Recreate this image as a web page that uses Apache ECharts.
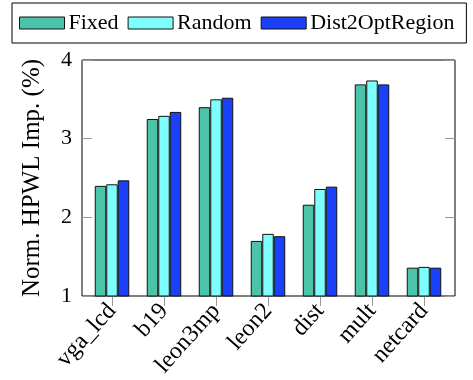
<!DOCTYPE html>
<html>
<head>
<meta charset="utf-8">
<script src="https://cdn.jsdelivr.net/npm/echarts@6/dist/echarts.min.js"></script>
<style>
html,body{margin:0;padding:0;background:#fff;}
#chart{width:473px;height:380px;}
</style>
</head>
<body>
<div id="chart"></div>
<script>
const categories = ['vga_lcd', 'b19', 'leon3mp', 'leon2', 'dist', 'mult', 'netcard'];
const fixedValues = [2.40, 3.25, 3.40, 1.70, 2.16, 3.69, 1.36];
const randomValues = [2.42, 3.29, 3.50, 1.79, 2.36, 3.74, 1.37];
const dist2OptValues = [2.47, 3.34, 3.52, 1.76, 2.39, 3.69, 1.36];
const yTicks = [1, 2, 3, 4];
const seriesNames = ['Fixed', 'Random', 'Dist2OptRegion'];

const FONT = '"Liberation Serif", "DejaVu Serif", serif';
const colors = ['#4cc4aa', '#7ffefe', '#1a40fa'];
const chart = echarts.init(document.getElementById('chart'));

function bar(name, data, color) {
  return {
    name: name, type: 'bar', data: data,
    xAxisIndex: 1, yAxisIndex: 2,
    barWidth: 11.5, barGap: '0%',
    itemStyle: { color: color, borderColor: '#111', borderWidth: 1 },
    animation: false
  };
}

chart.setOption({
  animation: false,
  textStyle: { fontFamily: FONT },
  legend: {
    data: seriesNames,
    left: 12, top: 3,
    orient: 'horizontal',
    itemWidth: 45, itemHeight: 12, itemGap: 9,
    padding: [9, 12, 9, 7],
    borderColor: '#000', borderWidth: 1,
    textStyle: { fontFamily: FONT, fontSize: 22, color: '#000', padding: [0, 0, 0, -1] },
    itemStyle: { borderColor: '#111', borderWidth: 1 },
    icon: 'rect'
  },
  grid: [
    { left: 82, right: 18, top: 60, bottom: 84, show: true, borderColor: '#000', borderWidth: 1, backgroundColor: 'transparent', outerBoundsMode: 'none', containLabel: false },
    { left: 86, right: 23, top: 60, bottom: 84, outerBoundsMode: 'none', containLabel: false }
  ],
  xAxis: [
    { type: 'value', gridIndex: 0, show: false, min: 0, max: 1 },
    {
      type: 'category', gridIndex: 1, data: categories,
      axisLine: { show: false },
      axisTick: { show: true, alignWithLabel: true, length: 10, lineStyle: { color: '#999', width: 1 } },
      axisLabel: { rotate: 48, fontFamily: FONT, fontSize: 24, color: '#000', margin: 11, interval: 0, hideOverlap: false }
    }
  ],
  yAxis: [
    {
      type: 'value', gridIndex: 0, min: yTicks[0], max: yTicks[yTicks.length - 1], interval: 1,
      name: 'Norm. HPWL Imp. (%)', nameLocation: 'middle', nameGap: 37,
      nameTextStyle: { fontFamily: FONT, fontSize: 25, color: '#000' },
      axisLine: { show: false },
      axisTick: { show: true, inside: true, length: 10, lineStyle: { color: '#999', width: 1 } },
      axisLabel: { fontFamily: FONT, fontSize: 22, color: '#000', margin: 10 },
      splitLine: { show: false }
    },
    {
      type: 'value', gridIndex: 0, position: 'right', min: yTicks[0], max: yTicks[yTicks.length - 1], interval: 1,
      axisLine: { show: false },
      axisTick: { show: true, inside: true, length: 10, lineStyle: { color: '#999', width: 1 } },
      axisLabel: { show: false },
      splitLine: { show: false }
    },
    {
      type: 'value', gridIndex: 1, min: yTicks[0], max: yTicks[yTicks.length - 1], show: false,
      splitLine: { show: false }
    }
  ],
  series: [
    bar(seriesNames[0], fixedValues, colors[0]),
    bar(seriesNames[1], randomValues, colors[1]),
    bar(seriesNames[2], dist2OptValues, colors[2])
  ]
});
</script>
</body>
</html>
